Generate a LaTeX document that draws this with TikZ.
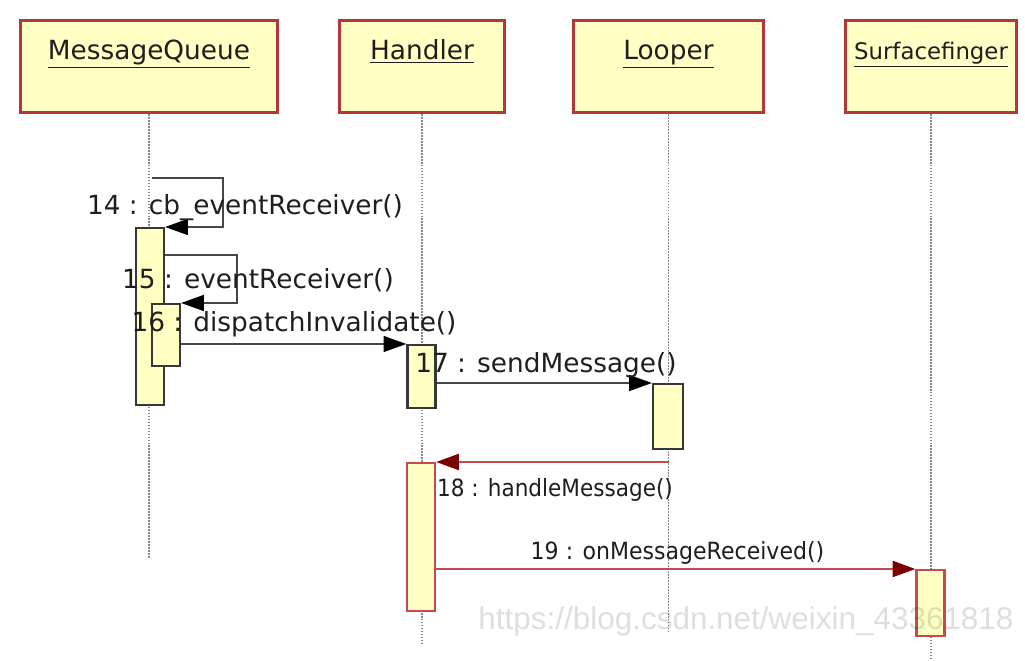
\documentclass[tikz,border=0pt]{standalone}
\usepackage{fontspec}
\setmainfont{DejaVu Sans}
\newfontfamily\wmfont{Liberation Sans}
\usetikzlibrary{arrows.meta}
\definecolor{boxfill}{RGB}{255,255,196}
\definecolor{boxred}{RGB}{180,55,55}
\definecolor{barline}{RGB}{55,55,55}
\definecolor{msgline}{RGB}{70,70,70}
\definecolor{redline}{RGB}{195,75,75}
\definecolor{darkred}{RGB}{125,0,0}
\definecolor{lifegray}{RGB}{135,135,135}
\definecolor{textgray}{RGB}{30,30,30}
\begin{document}
\begin{tikzpicture}
  [x=0.02cm,y=-0.02cm,
   head/.style={rectangle,draw=boxred,line width=1.7pt,fill=boxfill,anchor=north,
     inner xsep=0pt,inner ysep=0pt,text height=0.78cm,text depth=1.06cm,
     text=textgray,font=\fontsize{15}{18}\selectfont},
   bar/.style={rectangle,draw=barline,line width=1.2pt,fill=boxfill,anchor=north,
     minimum width=0.56cm,inner sep=0pt},
   redbar/.style={bar,draw=redline},
   life/.style={draw=lifegray,line width=1pt,dash pattern=on 1pt off 0.7pt},
   msg/.style={draw=msgline,line width=1.2pt,-{Triangle[length=13pt,width=9pt,color=black]}},
   redmsg/.style={draw=redline,line width=1.5pt,-{Triangle[length=13pt,width=9pt,color=darkred]}},
   lbl/.style={anchor=base,text=textgray,font=\fontsize{15}{18}\selectfont},
   small/.style={lbl,font=\fontsize{13.5}{16}\selectfont}]
  \useasboundingbox (0,0) rectangle (1025,661);
  \node[head,minimum width=5.16cm] (mq) at (149,19) {\underline{MessageQueue}};
  \node[head,minimum width=3.32cm] (hd) at (422,19) {\underline{Handler}};
  \node[head,minimum width=3.82cm] (lo) at (668.5,19) {\underline{Looper}};
  \node[head,minimum width=3.44cm,font=\fontsize{13}{16}\selectfont] (sf) at (931,19) {\underline{Surfacefinger}};

  \draw[life] (mq.south) -- ++(0,444);
  \draw[life] (hd.south) -- ++(0,529);
  \draw[life] (lo.south) -- ++(0,519);
  \draw[life] (sf.south) -- ++(0,546);

  \node[bar,minimum height=3.54cm] (mqa) at (150,227) {};
  \node[bar,minimum height=1.24cm] (mqb) at (166,303) {};
  \node[bar,minimum height=1.26cm] (ha) at (421.5,344) {};
  \node[bar,minimum height=1.3cm,minimum width=0.6cm] (la) at (668,383) {};
  \node[redbar,minimum height=2.96cm] (hb) at (421,462) {};
  \node[redbar,minimum height=1.32cm] (sa) at (930.5,569) {};

  \coordinate (c14) at (152,178);
  \draw[msg] (c14) -- ++(71,0) |- (mqa.north east);
  \draw[msg] ([yshift=-0.56cm]mqa.north east) -- ++(72,0) |- (mqb.north east);
  \draw[msg] (mqb.east |- ha.north) -- (ha.north west);
  \draw[msg] (ha.east |- la.north) -- (la.north west);
  \draw[redmsg] (lo.south |- hb.north) -- (hb.north east);
  \draw[redmsg] (hb.east |- sa.north) -- (sa.north west);

  \node[lbl] (l14) at (245,215) {14 : cb\_eventReceiver()};
  \node[lbl] (l15) at (258,289) {15 : eventReceiver()};
  \node[lbl] (l16) at (294,332) {16 : dispatchInvalidate()};
  \node[lbl] (l17) at (546,373) {17 : sendMessage()};
  \node[small] (l18) at (555,497) {\scalebox{0.91}[1]{18 : handleMessage()}};
  \node[small] (l19) at (677.5,560) {\scalebox{0.93}[1]{19 : onMessageReceived()}};

  \node[anchor=base,text=black,text opacity=0.13,font=\wmfont\fontsize{17.9}{20}\selectfont] (wm) at (746,630) {https://blog.csdn.net/weixin\_43361818};
\end{tikzpicture}
\end{document}
